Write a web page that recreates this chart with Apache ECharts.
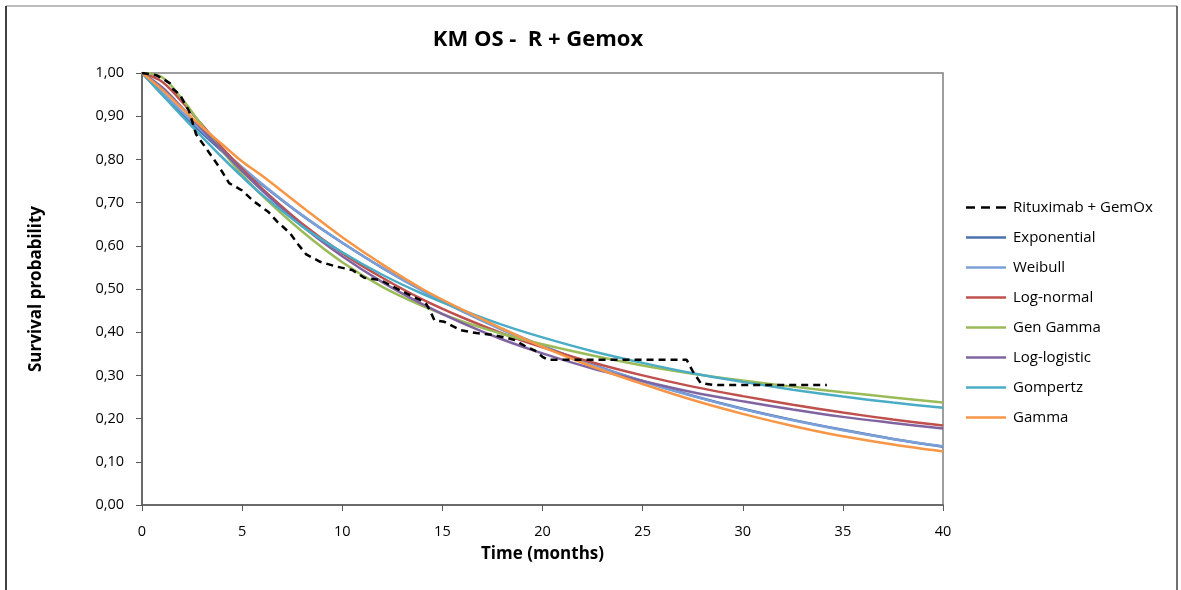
<!DOCTYPE html>
<html>
<head>
<meta charset="utf-8">
<script src="https://cdn.jsdelivr.net/npm/echarts@6/dist/echarts.min.js"></script>
<style>
  html, body { margin: 0; padding: 0; background: #ffffff; }
  #chart { width: 1181px; height: 590px; }
</style>
</head>
<body>
<div id="chart"></div>
<script>
// Kaplan-Meier overall survival, R + GemOx, with fitted parametric models
const kmTimes = [0, 0.7, 1.0, 1.4, 1.55, 1.9, 2.1, 2.35, 2.7, 3.15, 3.5, 3.9, 4.35, 5.0, 5.55, 6.3, 6.75, 7.4, 7.75, 8.2, 8.9, 9.7, 10.5, 11.1, 11.9, 12.5, 13.2, 13.9, 14.2, 14.4, 14.6, 15.1, 15.9, 16.7, 17.5, 18.2, 18.6, 19.2, 19.6, 20.0, 20.3, 27.2, 27.5, 27.9, 28.5, 34.2];
const kmSurv  = [1.000, 0.995, 0.988, 0.976, 0.963, 0.949, 0.932, 0.912, 0.858, 0.829, 0.806, 0.779, 0.745, 0.728, 0.704, 0.679, 0.656, 0.629, 0.606, 0.580, 0.563, 0.552, 0.544, 0.526, 0.521, 0.506, 0.490, 0.474, 0.465, 0.448, 0.428, 0.424, 0.405, 0.398, 0.394, 0.387, 0.382, 0.366, 0.358, 0.343, 0.336, 0.336, 0.310, 0.282, 0.278, 0.278];

const fitTimes = [0, 1, 2, 3, 4, 5, 6, 8, 10, 12, 14, 16, 18, 20, 22.5, 25, 27.5, 30, 32.5, 35, 37.5, 40];
const exponential = [1.000, 0.951, 0.905, 0.861, 0.819, 0.779, 0.741, 0.670, 0.607, 0.549, 0.497, 0.449, 0.407, 0.368, 0.325, 0.287, 0.253, 0.223, 0.197, 0.174, 0.153, 0.135];
const weibull     = [1.000, 0.955, 0.910, 0.866, 0.823, 0.782, 0.743, 0.671, 0.607, 0.549, 0.496, 0.448, 0.405, 0.367, 0.324, 0.286, 0.252, 0.222, 0.196, 0.173, 0.153, 0.136];
const logNormal   = [1.000, 0.980, 0.933, 0.880, 0.827, 0.778, 0.732, 0.651, 0.583, 0.526, 0.476, 0.434, 0.397, 0.365, 0.330, 0.300, 0.274, 0.252, 0.232, 0.214, 0.198, 0.184];
const genGamma    = [1.000, 0.990, 0.940, 0.878, 0.820, 0.765, 0.716, 0.633, 0.562, 0.505, 0.461, 0.425, 0.396, 0.372, 0.346, 0.323, 0.304, 0.288, 0.274, 0.261, 0.249, 0.237];
const logLogistic = [1.000, 0.967, 0.920, 0.870, 0.821, 0.773, 0.728, 0.646, 0.576, 0.516, 0.465, 0.421, 0.383, 0.351, 0.316, 0.287, 0.261, 0.240, 0.221, 0.204, 0.190, 0.177];
const gompertz    = [1.000, 0.950, 0.900, 0.852, 0.805, 0.760, 0.718, 0.645, 0.585, 0.533, 0.489, 0.451, 0.417, 0.388, 0.356, 0.329, 0.305, 0.285, 0.267, 0.251, 0.237, 0.225];
const gamma       = [1.000, 0.962, 0.918, 0.875, 0.835, 0.795, 0.762, 0.690, 0.620, 0.557, 0.500, 0.452, 0.408, 0.366, 0.320, 0.280, 0.243, 0.211, 0.183, 0.159, 0.140, 0.124];

const models = [
  { name: 'Exponential',  values: exponential, color: '#4a70b0' },
  { name: 'Weibull',      values: weibull,     color: '#7ba0d8' },
  { name: 'Log-normal',   values: logNormal,   color: '#c0504d' },
  { name: 'Gen Gamma',    values: genGamma,    color: '#9bbb59' },
  { name: 'Log-logistic', values: logLogistic, color: '#8064a2' },
  { name: 'Gompertz',     values: gompertz,    color: '#4bacc6' },
  { name: 'Gamma',        values: gamma,       color: '#f79646' }
];

const FONT = 'Open Sans';
const KM_NAME = 'Rituximab + GemOx';
const pair = (xs, ys) => xs.map((x, i) => [x, ys[i]]);

// legend glyphs: a short solid stroke, and a three-dash stroke for the KM curve
const SOLID_ICON = 'path://M0,0 L40,0 L40,2.5 L0,2.5 Z';
const DASH_ICON = 'path://M0,0 L9,0 L9,2.5 L0,2.5 Z M15,0 L24,0 L24,2.5 L15,2.5 Z M30,0 L40,0 L40,2.5 L30,2.5 Z';

const series = [{
  name: KM_NAME,
  type: 'line',
  data: pair(kmTimes, kmSurv),
  showSymbol: false,
  symbol: 'none',
  lineStyle: { color: '#000000', width: 2.5, type: [7, 5] },
  itemStyle: { color: '#000000' },
  z: 3
}].concat(models.map(m => ({
  name: m.name,
  type: 'line',
  data: pair(fitTimes, m.values),
  smooth: 0.35,
  showSymbol: false,
  symbol: 'none',
  lineStyle: { color: m.color, width: 2.5 },
  itemStyle: { color: m.color },
  z: 2
})));

const chart = echarts.init(document.getElementById('chart'), null, { renderer: 'canvas' });
chart.setOption({
  animation: false,
  backgroundColor: '#ffffff',
  textStyle: { fontFamily: FONT },
  title: {
    text: 'KM OS -  R + Gemox',
    left: 533, top: 24, textAlign: 'center',
    textStyle: { fontFamily: FONT, fontWeight: 'bold', fontSize: 22, color: '#000000' }
  },
  grid: {
    left: 142, right: 238, top: 73, bottom: 85,
    show: true, borderColor: '#7f7f7f', borderWidth: 1.5, backgroundColor: 'transparent'
  },
  legend: {
    orient: 'vertical',
    left: 961, top: 195,
    itemWidth: 40, itemHeight: 14, itemGap: 15,
    symbolKeepAspect: true,
    textStyle: { fontFamily: FONT, fontSize: 15, color: '#000000', padding: [0, 0, 0, 2] },
    data: series.map(s => ({ name: s.name, icon: s.name === KM_NAME ? DASH_ICON : SOLID_ICON }))
  },
  xAxis: {
    type: 'value', min: 0, max: 40, interval: 5,
    name: 'Time (months)', nameLocation: 'middle', nameGap: 41,
    nameTextStyle: { fontFamily: FONT, fontWeight: 'bold', fontSize: 17, color: '#000000' },
    axisLine: { show: true, onZero: false, lineStyle: { color: '#595959', width: 1.5 } },
    axisTick: { show: true, inside: false, length: 6, lineStyle: { color: '#595959' } },
    axisLabel: { margin: 19, fontFamily: FONT, fontSize: 14.5, color: '#000000' },
    splitLine: { show: false }
  },
  yAxis: {
    type: 'value', min: 0, max: 1, interval: 0.1,
    name: 'Survival probability', nameLocation: 'middle', nameGap: 97, nameRotate: 90,
    nameTextStyle: { fontFamily: FONT, fontWeight: 'bold', fontSize: 17, color: '#000000' },
    axisLine: { show: true, lineStyle: { color: '#595959', width: 1.5 } },
    axisTick: { show: true, inside: false, length: 6, lineStyle: { color: '#595959' } },
    axisLabel: {
      margin: 18, fontFamily: FONT, fontSize: 14.5, color: '#000000',
      formatter: v => v.toFixed(2).replace('.', ',')
    },
    splitLine: { show: false }
  },
  graphic: [
    { type: 'line', shape: { x1: 6, y1: 6, x2: 1177, y2: 6 }, style: { stroke: '#a6a6a6', lineWidth: 1.5 } },
    { type: 'line', shape: { x1: 6, y1: 6, x2: 6, y2: 590 }, style: { stroke: '#404040', lineWidth: 2 } },
    { type: 'line', shape: { x1: 1177, y1: 6, x2: 1177, y2: 590 }, style: { stroke: '#404040', lineWidth: 1.5 } }
  ],
  series: series
});
</script>
</body>
</html>
